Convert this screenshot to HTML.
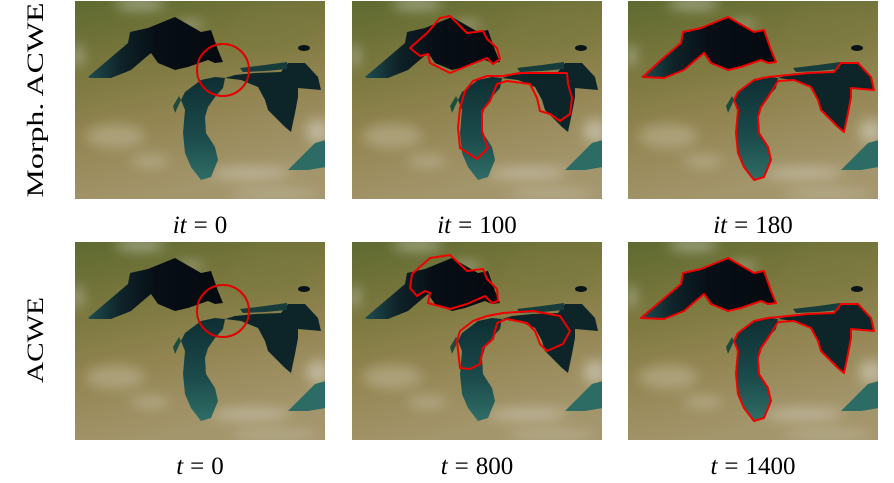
<!DOCTYPE html>
<html><head><meta charset="utf-8"><style>
html,body{margin:0;padding:0;background:#fff;width:894px;height:483px;overflow:hidden}
svg{display:block}
text{font-family:"Liberation Serif",serif;fill:#000}
</style></head><body>
<svg width="894" height="483" viewBox="0 0 894 483">
<defs>
  <linearGradient id="land" x1="0" y1="0" x2="0.3" y2="1">
    <stop offset="0" stop-color="#5e6a30"/>
    <stop offset="0.35" stop-color="#7b783e"/>
    <stop offset="0.65" stop-color="#938552"/>
    <stop offset="1" stop-color="#a4966c"/>
  </linearGradient>
  <linearGradient id="mich" x1="0" y1="0" x2="0" y2="1">
    <stop offset="0" stop-color="#0e2e32"/>
    <stop offset="0.6" stop-color="#1c4c4c"/>
    <stop offset="1" stop-color="#2f6d66"/>
  </linearGradient>
  <linearGradient id="sup" x1="0" y1="0" x2="1" y2="0">
    <stop offset="0" stop-color="#1f4d50"/>
    <stop offset="0.25" stop-color="#0e2228"/>
    <stop offset="0.5" stop-color="#070e16"/>
    <stop offset="1" stop-color="#050a10"/>
  </linearGradient>
  <filter id="blur" x="-50%" y="-50%" width="200%" height="200%"><feGaussianBlur stdDeviation="6"/></filter>
  <clipPath id="pc"><rect x="0" y="0" width="250" height="198"/></clipPath>
  <g id="map">
    <rect x="0" y="0" width="250" height="198" fill="url(#land)"/>
    <g filter="url(#blur)" opacity="0.45">
      <ellipse cx="65" cy="3" rx="25" ry="6" fill="#e6e6e0"/>
      <ellipse cx="115" cy="24" rx="14" ry="5" fill="#c8c8bc"/>
      <ellipse cx="3" cy="55" rx="5" ry="12" fill="#ddd"/>
      <ellipse cx="40" cy="135" rx="30" ry="12" fill="#c9c2a8"/>
      <ellipse cx="75" cy="160" rx="20" ry="6" fill="#cfc8b2"/>
      <ellipse cx="175" cy="172" rx="40" ry="6" fill="#dedad0"/>
      <ellipse cx="243" cy="130" rx="12" ry="12" fill="#e8e8e4"/>
      <ellipse cx="200" cy="193" rx="45" ry="5" fill="#cfcabb"/>
      <ellipse cx="200" cy="30" rx="45" ry="25" fill="#7a7a40"/>
    </g>
    <polygon points="13,76 33,59 53,42 55,31 73,27 100,16 126,31 136,29 143,49 148,61 140,62 133,59 113,66 100,69 83,62 76,52 70,57 56,69 36,77 15,77" fill="url(#sup)"/>
    <polygon points="106,99 110,91 126,79 140,76 150,77 148,87 140,96 133,106 130,116 131,132 140,146 143,159 136,176 126,179 116,166 110,152 108,132 110,109" fill="url(#mich)"/>
    <polygon points="150,77 160,74 180,72 206,71 213,62 230,62 243,76 246,89 223,87 223,96 220,112 216,131 210,126 193,109 190,99 183,86 166,79" fill="#0d2529"/>
    <polygon points="165,67 190,64 212,61 212,68 190,70 168,71" fill="#163c3c"/>
    <polygon points="213,169 226,156 240,142 251,139 251,166 233,169" fill="#2c6c64"/>
    <polygon points="98,105 104,95 106,99 100,112" fill="#1d4c3c"/>
    <ellipse cx="229" cy="47" rx="6" ry="3" fill="#0a1418"/>
  </g>
</defs>

<text transform="translate(43,100) rotate(-90)" font-size="23" text-anchor="middle" textLength="195" lengthAdjust="spacingAndGlyphs">Morph. ACWE</text>
<text transform="translate(43,340) rotate(-90)" font-size="23" text-anchor="middle" textLength="86" lengthAdjust="spacingAndGlyphs">ACWE</text>

<g transform="translate(75,1)" clip-path="url(#pc)">
  <use href="#map"/>
  <circle cx="148" cy="69" r="26" fill="none" stroke="#e00000" stroke-width="2"/>
</g>
<g transform="translate(352,1)" clip-path="url(#pc)">
  <use href="#map"/>
  <g fill="none" stroke="#f00000" stroke-width="2" stroke-linejoin="round">
    <polygon points="58,47 75,32 88,17 98,15 115,32 131,30 135,38 145,47 148,58 141,63 135,57 115,65 98,72 78,62 76,53 68,55"/>
    <polygon points="108,147 106,127 108,107 113,90 121,80 135,75 151,75 168,72 198,72 215,72 216,83 220,97 218,113 208,120 198,113 188,110 185,97 178,83 155,80 145,83 138,100 130,110 130,130 136,147 125,158"/>
  </g>
</g>
<g transform="translate(628,1)" clip-path="url(#pc)">
  <use href="#map"/>
  <g fill="none" stroke="#f00000" stroke-width="2" stroke-linejoin="round">
    <polygon points="15,76 33,59 53,42 55,31 73,27 100,16 126,31 136,29 143,49 148,61 140,62 133,59 113,66 100,69 83,62 76,52 70,57 56,69 36,77"/>
    <polygon points="106,99 110,91 126,79 140,76 160,74 180,72 206,71 213,62 230,62 243,76 246,89 223,87 223,96 220,112 216,131 210,126 193,109 190,99 183,86 166,79 150,80 140,96 133,106 130,116 131,132 140,146 143,159 136,176 126,179 116,166 110,152 108,132 110,109"/>
  </g>
</g>

<g transform="translate(75,242)" clip-path="url(#pc)">
  <use href="#map"/>
  <circle cx="148" cy="69" r="26" fill="none" stroke="#e00000" stroke-width="2"/>
</g>
<g transform="translate(352,242)" clip-path="url(#pc)">
  <use href="#map"/>
  <g fill="none" stroke="#f00000" stroke-width="2" stroke-linejoin="round">
    <polygon points="60,32 78,16 98,13 115,29 131,27 135,37 145,47 146,59 140,61 133,54 115,62 98,67 76,61 78,51 73,49 65,54 58,46"/>
    <polygon points="108,126 105,99 108,89 121,79 135,74 151,71 181,69 208,74 218,89 211,102 195,109 188,102 183,89 175,81 155,77 145,81 141,97 131,106 128,122 118,127"/>
  </g>
</g>
<g transform="translate(628,242)" clip-path="url(#pc)">
  <use href="#map"/>
  <g fill="none" stroke="#f00000" stroke-width="2" stroke-linejoin="round">
    <polygon points="13,76 33,59 53,42 55,31 73,27 100,16 126,31 136,29 143,49 148,61 140,62 133,59 113,66 100,69 83,62 76,52 70,57 56,69 36,77"/>
    <polygon points="106,99 110,91 126,79 140,76 160,74 180,72 206,71 213,62 230,62 243,76 246,89 223,87 223,96 220,112 216,131 210,126 193,109 190,99 183,86 166,79 150,80 140,96 133,106 130,116 131,132 140,146 143,159 136,176 126,179 116,166 110,152 108,132 110,109"/>
  </g>
</g>

<g font-size="25" text-anchor="middle">
  <text x="200" y="233"><tspan font-style="italic">it</tspan><tspan dx="7">=</tspan><tspan dx="7">0</tspan></text>
  <text x="477" y="233"><tspan font-style="italic">it</tspan><tspan dx="7">=</tspan><tspan dx="7">100</tspan></text>
  <text x="753" y="233"><tspan font-style="italic">it</tspan><tspan dx="7">=</tspan><tspan dx="7">180</tspan></text>
  <text x="200" y="474"><tspan font-style="italic">t</tspan><tspan dx="7">=</tspan><tspan dx="7">0</tspan></text>
  <text x="477" y="474"><tspan font-style="italic">t</tspan><tspan dx="7">=</tspan><tspan dx="7">800</tspan></text>
  <text x="753" y="474"><tspan font-style="italic">t</tspan><tspan dx="7">=</tspan><tspan dx="7">1400</tspan></text>
</g>
</svg>
</body></html>
